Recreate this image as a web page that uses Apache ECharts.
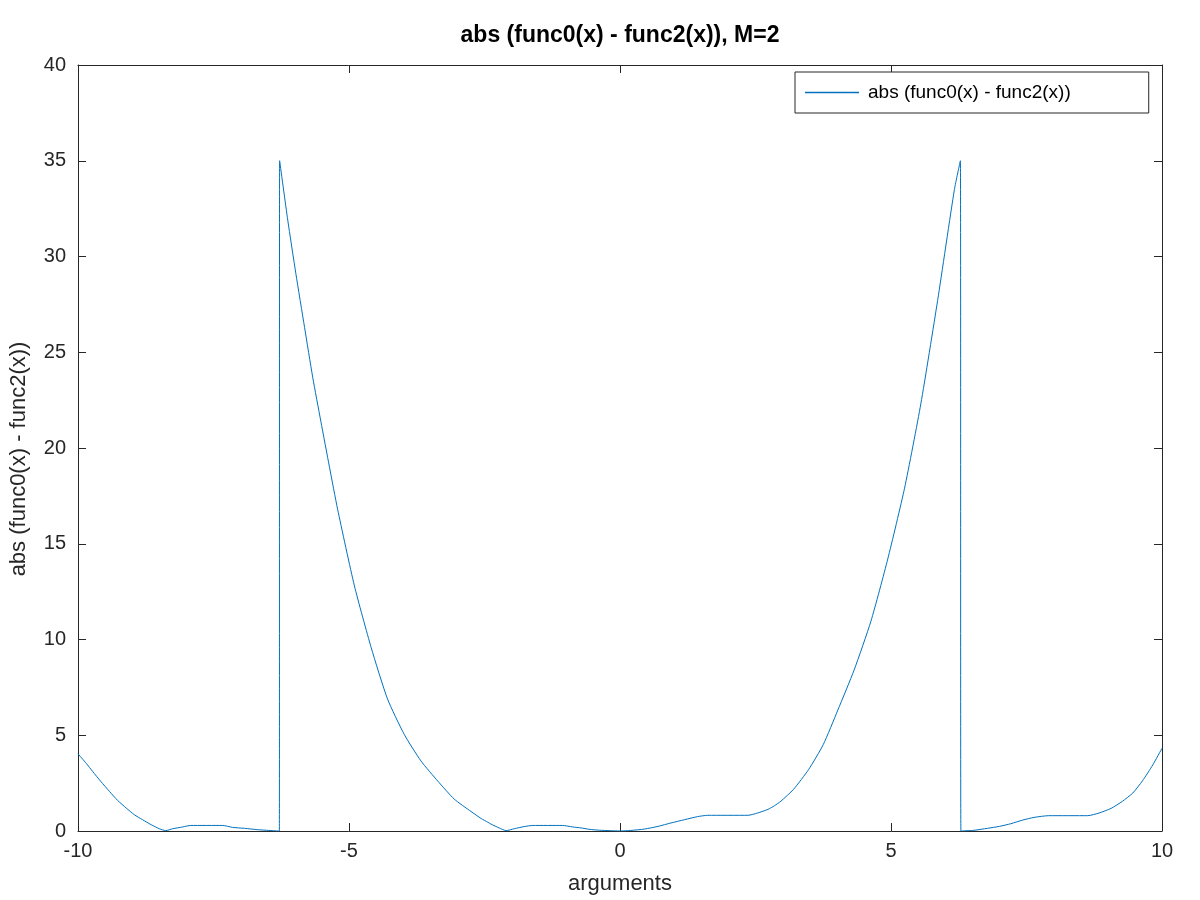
<!DOCTYPE html>
<html>
<head>
<meta charset="utf-8">
<script src="https://cdn.jsdelivr.net/npm/echarts@6/dist/echarts.min.js"></script>
<style>
  html, body { margin: 0; padding: 0; background: #fff; }
  #chart { width: 1200px; height: 900px; }
</style>
</head>
<body>
<div id="chart"></div>
<script>
// values, left to right (jumps at +-2*pi kept as double points)
var argX = [
    -10, -9.85, -9.73, -9.58, -9.42, -9.27, -9.11, -8.96, -8.81, -8.65,
    -8.50, -8.38, -8.25, -8.07, -7.92, -7.33, -7.15, -6.93, -6.69, -6.48,
    -6.30, -6.285,
    -6.28, -6.13, -5.98, -5.82, -5.67, -5.52, -5.36, -5.21, -4.90, -4.59,
    -4.29, -3.98, -3.67, -3.36, -3.06, -2.75, -2.56, -2.44, -2.38, -2.23,
    -2.10, -1.95, -1.77, -1.61, -1.06, -0.87, -0.72, -0.57, -0.38, -0.20,
    0,
    0.20, 0.45, 0.70, 0.94, 1.19, 1.43, 1.62, 2.36, 2.54, 2.73,
    2.85, 2.97, 3.20, 3.48, 3.75, 4.02, 4.32, 4.63, 4.94, 5.25,
    5.55, 5.86, 6.17, 6.28, 6.29,
    6.51, 6.78, 7.00, 7.21, 7.43, 7.64, 7.91, 8.63, 8.84, 9.06,
    9.27, 9.46, 9.64, 9.83, 10
];
var absDiff = [
    4.03, 3.54, 3.11, 2.59, 2.07, 1.60, 1.20, 0.85, 0.59, 0.33,
    0.12, 0.02, 0.12, 0.21, 0.29, 0.29, 0.19, 0.14, 0.07, 0.03,
    0, 0,
    35.0, 31.9, 29.1, 26.3, 23.7, 21.4, 19.0, 16.8, 12.8, 9.57,
    6.90, 5.04, 3.65, 2.60, 1.67, 1.02, 0.65, 0.46, 0.36, 0.16,
    0.02, 0.12, 0.23, 0.29, 0.29, 0.21, 0.16, 0.09, 0.04, 0.02,
    0,
    0.03, 0.10, 0.24, 0.42, 0.59, 0.75, 0.82, 0.82, 0.94, 1.13,
    1.32, 1.56, 2.17, 3.21, 4.51, 6.32, 8.41, 10.96, 14.2, 17.9,
    22.3, 27.7, 33.5, 35.0, 0,
    0.03, 0.14, 0.24, 0.38, 0.57, 0.71, 0.80, 0.80, 0.94, 1.18,
    1.55, 1.98, 2.62, 3.45, 4.32
];
var seriesName = 'abs (func0(x) - func2(x))';

var chart = echarts.init(document.getElementById('chart'));

var axisColor = '#262626';
var lineColor = '#0072BD';
var font = 'Liberation Sans, Helvetica, Arial, sans-serif';

// box axes on top / right: only line and inward ticks
function mirrorAxis(pos) {
    return {
        type: 'value',
        position: pos,
        min: pos === 'top' ? -10 : 0,
        max: pos === 'top' ? 10 : 40,
        interval: 5,
        axisLine: { show: true, onZero: false, lineStyle: { color: axisColor, width: 1 } },
        axisTick: { show: true, inside: true, length: 8, lineStyle: { color: axisColor } },
        axisLabel: { show: false },
        splitLine: { show: false }
    };
}

var option = {
    animation: false,
    backgroundColor: '#fff',
    title: {
        text: 'abs (func0(x) - func2(x)), M=2',
        left: 615,
        textAlign: 'center',
        top: 19,
        textStyle: { fontFamily: font, fontSize: 23, fontWeight: 'bold', color: '#000' }
    },
    legend: {
        data: [{ name: seriesName, icon: 'rect' }],
        left: 795,
        top: 72,
        orient: 'vertical',
        itemWidth: 54,
        itemHeight: 1.5,
        itemGap: 0,
        padding: [11, 78, 11, 10],
        borderColor: '#262626',
        borderWidth: 1,
        backgroundColor: '#fff',
        itemStyle: { color: lineColor },
        textStyle: { fontFamily: font, fontSize: 19, color: '#000', padding: [0, 0, 0, 4] }
    },
    grid: { left: 78, right: 38, top: 65, bottom: 67, containLabel: false },
    xAxis: [{
        type: 'value',
        min: -10,
        max: 10,
        interval: 5,
        name: 'arguments',
        nameLocation: 'middle',
        nameGap: 42,
        nameTextStyle: { fontFamily: font, fontSize: 22, color: axisColor },
        axisLine: { show: true, onZero: false, lineStyle: { color: axisColor, width: 1 } },
        axisTick: { show: true, inside: true, length: 8, lineStyle: { color: axisColor } },
        axisLabel: { fontFamily: font, fontSize: 20, color: axisColor, margin: 10 },
        splitLine: { show: false }
    }, mirrorAxis('top')],
    yAxis: [{
        type: 'value',
        min: 0,
        max: 40,
        interval: 5,
        name: seriesName,
        nameLocation: 'middle',
        nameGap: 48,
        nameTextStyle: { fontFamily: font, fontSize: 22, color: axisColor, padding: [0, 22, 0, 0] },
        axisLine: { show: true, onZero: false, lineStyle: { color: axisColor, width: 1 } },
        axisTick: { show: true, inside: true, length: 8, lineStyle: { color: axisColor } },
        axisLabel: { fontFamily: font, fontSize: 20, color: axisColor, margin: 12 },
        splitLine: { show: false }
    }, mirrorAxis('right')],
    series: [{
        name: seriesName,
        type: 'line',
        showSymbol: false,
        symbol: 'none',
        smooth: 0.2,
        color: lineColor,
        itemStyle: { color: lineColor },
        lineStyle: { color: lineColor, width: 1 },
        data: argX.map(function (x, i) { return [x, absDiff[i]]; })
    }]
};

chart.setOption(option);
</script>
</body>
</html>
